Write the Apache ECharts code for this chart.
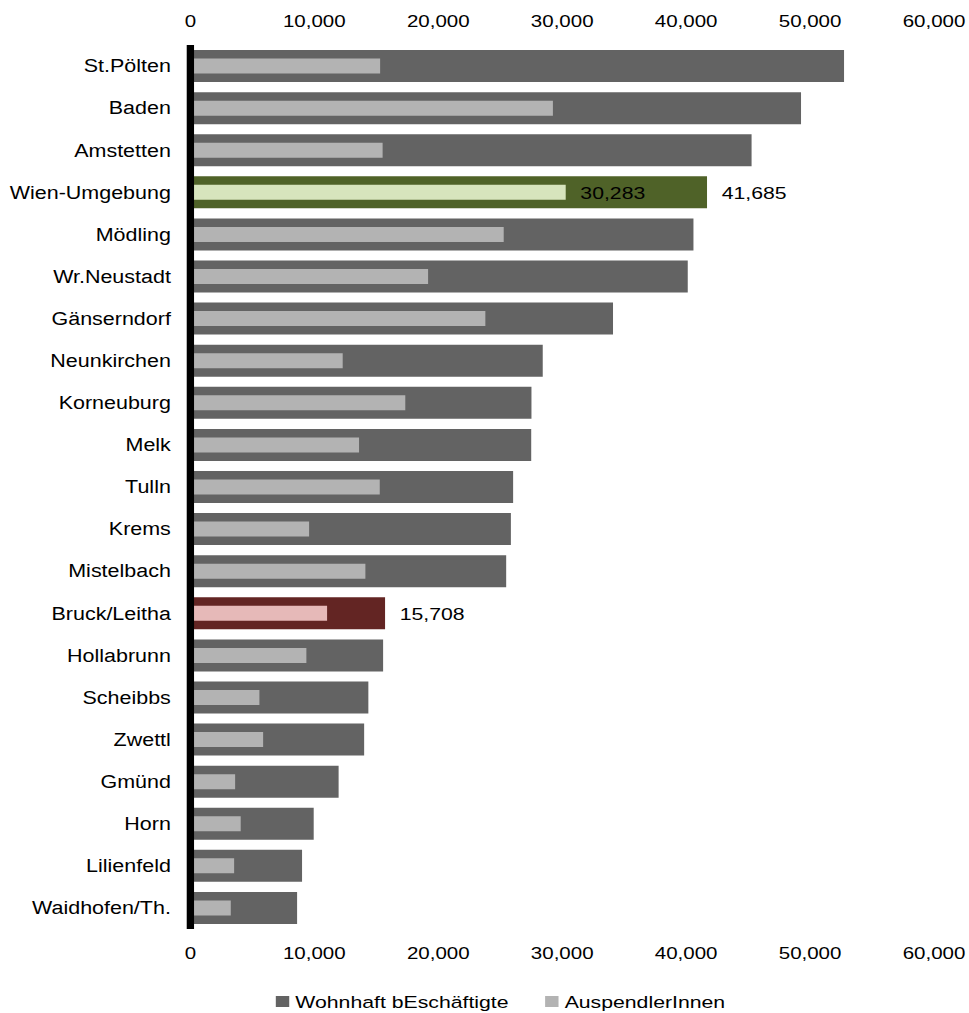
<!DOCTYPE html>
<html>
<head>
<meta charset="utf-8">
<script src="https://cdn.jsdelivr.net/npm/echarts@6/dist/echarts.min.js"></script>
<style>
  html, body { margin: 0; padding: 0; background: #fff; overflow: hidden; }
  #chart {
    width: 794px; height: 1013px;
    transform: scaleX(1.2204); transform-origin: 0 0;
  }
</style>
</head>
<body>
<div id="chart"></div>
<script>
// Bezirke, sorted by number of resident employees
const categories = ['St.Pölten', 'Baden', 'Amstetten', 'Wien-Umgebung', 'Mödling', 'Wr.Neustadt',
  'Gänserndorf', 'Neunkirchen', 'Korneuburg', 'Melk', 'Tulln', 'Krems', 'Mistelbach',
  'Bruck/Leitha', 'Hollabrunn', 'Scheibbs', 'Zwettl', 'Gmünd', 'Horn', 'Lilienfeld', 'Waidhofen/Th.'];

// Wohnhaft Beschäftigte
const wohnhaft = [52740, 49270, 45280, 41685, 40590, 40130, 34100, 28430, 27520, 27500,
  26040, 25860, 25480, 15708, 15550, 14360, 14020, 11960, 9950, 9010, 8610];

// AuspendlerInnen
const auspendler = [15310, 29250, 15510, 30283, 25280, 19180, 23800, 12290, 17340, 13610,
  15280, 9580, 14120, 11030, 9360, 5570, 5870, 3610, 4060, 3530, 3260];

const seriesNames = ['Wohnhaft bEschäftigte', 'AuspendlerInnen'];
const axisTicks = [0, 10000, 20000, 30000, 40000, 50000, 60000];

const FONT = 'Liberation Sans, Arial, sans-serif';
const fmt = v => v.toLocaleString('en-US');

// highlighted districts: colours and which values get a label
const highlight = {
  'Wien-Umgebung': { dark: '#4f6228', light: '#d7e4bd', labelDark: true, labelLight: true },
  'Bruck/Leitha':  { dark: '#632523', light: '#e6b9b8', labelDark: true, labelLight: false }
};

const valueLabel = {
  show: true, position: 'right', distance: 12,
  fontFamily: FONT, fontSize: 17.4, color: '#000',
  formatter: p => fmt(p.value)
};

function buildData(values, which) {
  return values.map((v, i) => {
    const h = highlight[categories[i]];
    if (!h) return v;
    const item = { value: v, itemStyle: { color: h[which] } };
    if (which === 'dark' ? h.labelDark : h.labelLight) item.label = valueLabel;
    return item;
  });
}

const valueAxis = (pos) => ({
  type: 'value', position: pos,
  min: axisTicks[0], max: axisTicks[axisTicks.length - 1], interval: 10000,
  axisLine: { show: false }, axisTick: { show: false }, splitLine: { show: false },
  axisLabel: {
    margin: pos === 'top' ? 15 : 16,
    fontFamily: FONT, fontSize: 16.8, color: '#000',
    formatter: fmt
  }
});

const chart = echarts.init(document.getElementById('chart'), null, { renderer: 'svg' });
chart.setOption({
  animation: false,
  backgroundColor: '#fff',
  grid: { left: 156, right: 28.4, top: 45, bottom: 84, containLabel: false },
  xAxis: [valueAxis('bottom'), valueAxis('top')],
  yAxis: [
    {
      type: 'category', data: categories, inverse: true, z: 10,
      axisLine: { show: true, lineStyle: { color: '#000', width: 6, cap: 'butt' } },
      axisTick: { show: false },
      axisLabel: { margin: 16, fontFamily: FONT, fontSize: 17.6, color: '#000' }
    },
    // second category axis so the narrow bars are centred inside the wide ones
    {
      type: 'category', data: categories, inverse: true, show: false
    }
  ],
  legend: {
    left: 221, top: 988,
    itemWidth: 11, itemHeight: 11, itemGap: 30,
    icon: 'rect',
    textStyle: { fontFamily: FONT, fontSize: 17.4, color: '#000' },
    data: seriesNames
  },
  series: [
    {
      name: seriesNames[0], type: 'bar', xAxisIndex: 0, yAxisIndex: 0,
      barWidth: 32,
      itemStyle: { color: '#636363' },
      data: buildData(wohnhaft, 'dark')
    },
    {
      name: seriesNames[1], type: 'bar', xAxisIndex: 0, yAxisIndex: 1,
      barWidth: 15,
      itemStyle: { color: '#b3b3b3' },
      data: buildData(auspendler, 'light')
    }
  ]
});
</script>
</body>
</html>
